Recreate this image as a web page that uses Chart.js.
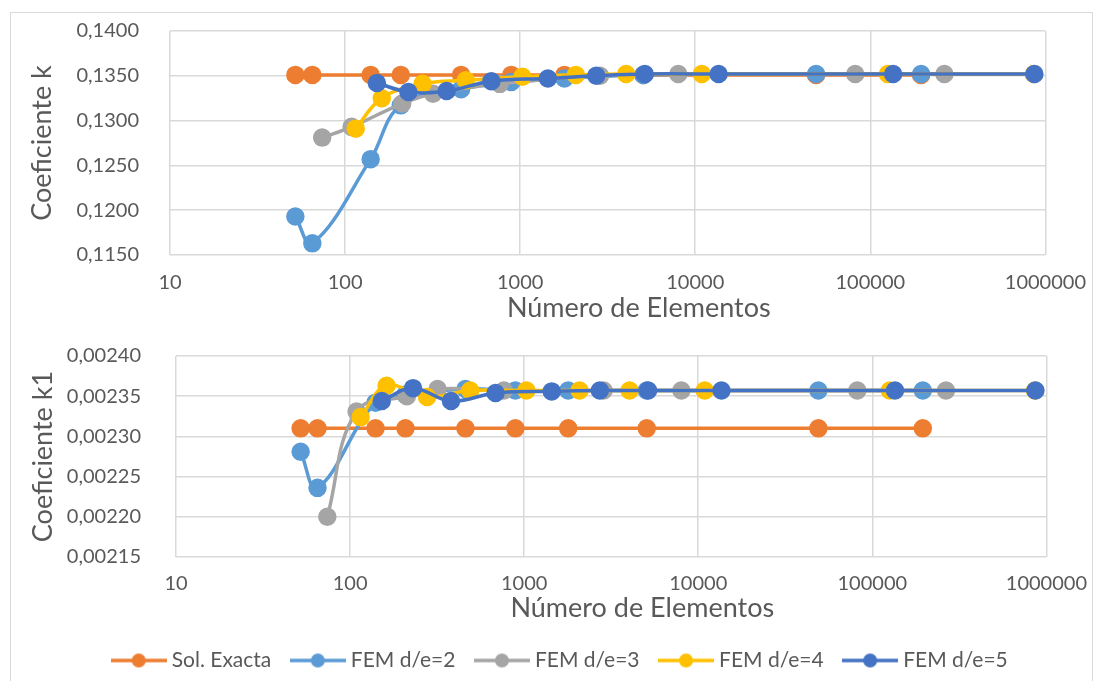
<!DOCTYPE html>
<html>
<head>
<meta charset="utf-8">
<script src="https://cdn.jsdelivr.net/npm/chart.js@4.4.1/dist/chart.umd.min.js"></script>
<style>
  html, body { margin: 0; padding: 0; background: #fff; }
  #wrap { position: relative; width: 1102px; height: 681px; overflow: hidden; }
  #frame { position: absolute; left: 10px; top: 12px; width: 1081px; height: 720px; border: 1px solid #d9d9d9; }
  #c1 { position: absolute; left: 0; top: 0; }
  #c2 { position: absolute; left: 0; top: 325px; }
</style>
</head>
<body>
<div id="wrap">
  <div id="frame"></div>
  <canvas id="c1" width="1102" height="325"></canvas>
  <canvas id="c2" width="1102" height="356"></canvas>
</div>
<script>
// data
var xTicks = [10, 100, 1000, 10000, 100000, 1000000];
var kTicks = [0.115, 0.120, 0.125, 0.130, 0.135, 0.140];
var k1Ticks = [0.00215, 0.00220, 0.00225, 0.00230, 0.00235, 0.00240];

var seriesNames = ["Sol. Exacta", "FEM d/e=2", "FEM d/e=3", "FEM d/e=4", "FEM d/e=5"];
var seriesColors = ["#ED7D31", "#5B9BD5", "#A5A5A5", "#FFC000", "#4472C4"];

var xSol = [52, 65, 140, 208, 460, 890, 1790, 5060, 49000, 195000];
var kSol = [0.1351, 0.1351, 0.1351, 0.1351, 0.1351, 0.1351, 0.1351, 0.1351, 0.1351, 0.1351];
var k1Sol = [0.00231, 0.00231, 0.00231, 0.00231, 0.00231, 0.00231, 0.00231, 0.00231, 0.00231, 0.00231];

var xFem2 = [52, 65, 140, 208, 460, 890, 1790, 5060, 49000, 195000];
var kFem2 = [0.1193, 0.1163, 0.1257, 0.1317, 0.1335, 0.1343, 0.1347, 0.1351, 0.1352, 0.1352];
var k1Fem2 = [0.002281, 0.002236, 0.002342, 0.002352, 0.002359, 0.002357, 0.002357, 0.002357, 0.002357, 0.002357];

var xFem3 = [74, 109, 212, 318, 765, 2860, 8000, 82000, 265000];
var kFem3 = [0.1281, 0.1293, 0.1319, 0.1330, 0.1341, 0.1350, 0.1352, 0.1352, 0.1352];
var k1Fem3 = [0.002200, 0.002331, 0.002350, 0.002359, 0.002357, 0.002357, 0.002357, 0.002357, 0.002357];

var xFem4 = [115, 162, 277, 490, 1030, 2080, 4030, 10900, 126000, 860000];
var kFem4 = [0.1291, 0.1325, 0.1341, 0.1345, 0.1349, 0.1351, 0.1352, 0.1352, 0.1352, 0.1352];
var k1Fem4 = [0.002324, 0.002363, 0.002349, 0.002357, 0.002357, 0.002357, 0.002357, 0.002357, 0.002357, 0.002357];

var xFem5 = [152, 230, 380, 685, 1440, 2720, 5150, 13600, 135000, 865000];
var kFem5 = [0.1342, 0.1332, 0.1333, 0.1344, 0.1347, 0.1350, 0.1352, 0.1352, 0.1352, 0.1352];
var k1Fem5 = [0.002344, 0.002360, 0.002344, 0.002354, 0.002356, 0.002357, 0.002357, 0.002357, 0.002357, 0.002357];

var textColor = "#595959";
var gridColor = "#d9d9d9";
var fontFamily = "Lato, 'Open Sans', sans-serif";
// the x title sits a bit right of centre in the original
var xTitle = "         Número de Elementos";

function pts(xs, ys) {
  return xs.map(function (x, i) {
    return { x: x, y: ys[i] };
  });
}

function dataset(i, xs, ys) {
  var c = seriesColors[i];
  return {
    label: seriesNames[i],
    data: pts(xs, ys),
    borderColor: c,
    backgroundColor: c,
    pointBackgroundColor: c,
    pointBorderColor: c,
    borderWidth: 3.5,
    pointRadius: 7.5,
    pointHoverRadius: 7.5,
    tension: 0.4,
    order: 5 - i,
  };
}

// legend marker: line with a dot, like the spreadsheet legend
function legendIcon(color) {
  var cv = document.createElement("canvas");
  cv.width = 56;
  cv.height = 16;
  var g = cv.getContext("2d");
  g.strokeStyle = color;
  g.lineWidth = 3.5;
  g.beginPath();
  g.moveTo(0, 8);
  g.lineTo(56, 8);
  g.stroke();
  g.fillStyle = color;
  g.beginPath();
  g.arc(28, 8, 7, 0, Math.PI * 2);
  g.fill();
  return cv;
}

function xScale(height, tickPad, titlePad) {
  return {
    type: "logarithmic",
    min: 10,
    max: 1000000,
    afterBuildTicks: function (s) {
      s.ticks = xTicks.map(function (v) { return { value: v }; });
    },
    afterFit: function (s) { s.height = height; },
    ticks: {
      callback: function (v) { return String(v); },
      font: { family: fontFamily, size: 20 },
      color: textColor,
      padding: tickPad,
      maxRotation: 0,
      autoSkip: false,
    },
    grid: { color: gridColor, lineWidth: 1.5, drawTicks: false },
    border: { display: false },
    title: {
      display: true,
      text: xTitle,
      font: { family: fontFamily, size: 27 },
      color: textColor,
      padding: { top: 0, bottom: titlePad },
    },
  };
}

function yScale(ticks, digits, title, width, tickPad, titlePad) {
  return {
    type: "linear",
    min: ticks[0],
    max: ticks[ticks.length - 1],
    afterBuildTicks: function (s) {
      s.ticks = ticks.map(function (v) { return { value: v }; });
    },
    afterFit: function (s) {
      s.width = width;
      s.paddingTop = 0;
      s.paddingBottom = 0;
    },
    ticks: {
      callback: function (v) { return v.toFixed(digits).replace(".", ","); },
      font: { family: fontFamily, size: 20 },
      color: textColor,
      padding: tickPad,
    },
    grid: { color: gridColor, lineWidth: 1.5, drawTicks: false },
    border: { display: false },
    title: {
      display: true,
      text: title,
      font: { family: fontFamily, size: 27 },
      color: textColor,
      padding: { top: titlePad, bottom: 0 },
    },
  };
}

var legendShift = {
  id: "legendShift",
  afterLayout: function (chart) {
    if (chart.legend && chart.options.plugins.legend.display) {
      chart.legend.left += 75;
    }
  },
};

new Chart(document.getElementById("c1"), {
  type: "line",
  data: {
    datasets: [
      dataset(0, xSol, kSol),
      dataset(1, xFem2, kFem2),
      dataset(2, xFem3, kFem3),
      dataset(3, xFem4, kFem4),
      dataset(4, xFem5, kFem5),
    ],
  },
  options: {
    responsive: false,
    animation: false,
    layout: { padding: { left: 0, right: 56, top: 31, bottom: 0 } },
    plugins: { legend: { display: false }, tooltip: { enabled: false } },
    scales: {
      x: xScale(70, 16, 1),
      y: yScale(kTicks, 4, "Coeficiente k", 170, 31, 26),
    },
  },
});

new Chart(document.getElementById("c2"), {
  type: "line",
  data: {
    datasets: [
      dataset(0, xSol, k1Sol),
      dataset(1, xFem2, k1Fem2),
      dataset(2, xFem3, k1Fem3),
      dataset(3, xFem4, k1Fem4),
      dataset(4, xFem5, k1Fem5),
    ],
  },
  options: {
    responsive: false,
    animation: false,
    layout: { padding: { left: 0, right: 53, top: 31, bottom: 0 } },
    plugins: {
      tooltip: { enabled: false },
      legend: {
        display: true,
        position: "bottom",
        labels: {
          usePointStyle: true,
          pointStyleWidth: 45,
          padding: 24,
          color: textColor,
          font: { family: fontFamily, size: 21 },
          sort: function (a, b) { return a.datasetIndex - b.datasetIndex; },
          generateLabels: function (chart) {
            var items = Chart.defaults.plugins.legend.labels.generateLabels(chart);
            items.forEach(function (it) {
              it.pointStyle = legendIcon(seriesColors[it.datasetIndex]);
            });
            return items;
          },
        },
      },
    },
    scales: {
      x: xScale(69, 15, 1.5),
      y: yScale(k1Ticks, 5, "Coeficiente k1", 176, 35, 27),
    },
  },
  plugins: [legendShift],
});
</script>
</body>
</html>
